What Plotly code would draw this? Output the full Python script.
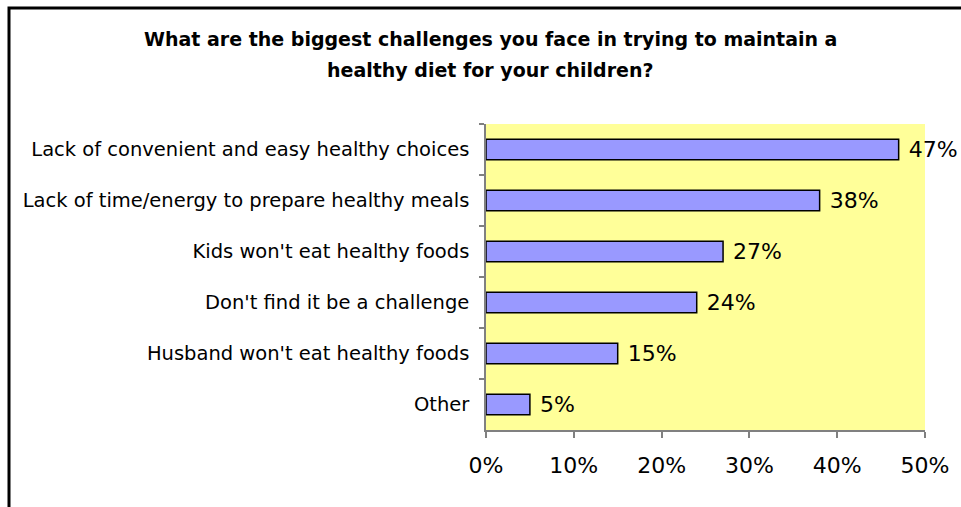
import plotly.graph_objects as go

# Survey responses (share of parents)
categories = [
    "Lack of convenient and easy healthy choices",
    "Lack of time/energy to prepare healthy meals",
    "Kids won't eat healthy foods",
    "Don't find it be a challenge",
    "Husband won't eat healthy foods",
    "Other",
]
values = [47, 38, 27, 24, 15, 5]
x_ticks = [0, 10, 20, 30, 40, 50]
x_tick_labels = ["0%", "10%", "20%", "30%", "40%", "50%"]
title_lines = [
    "What are the biggest challenges you face in trying to maintain a",
    "healthy diet for your children?",
]

FONT = "DejaVu Sans, Arial, sans-serif"

fig = go.Figure(
    go.Bar(
        x=values,
        y=categories,
        orientation="h",
        width=0.4,
        marker=dict(color="#9999FF", line=dict(color="black", width=1.5)),
        text=[f" {v}%" for v in values],
        textposition="outside",
        constraintext="none",
        textfont=dict(family=FONT, size=22, color="black"),
        cliponaxis=False,
        hoverinfo="skip",
    )
)

W, H = 961, 507
L, R, T, B = 486, 36, 124, 77
pw, ph = W - L - R, H - T - B


def px_x(x):
    return (x - L) / pw


def px_y(y):
    return 1 - (y - T) / ph


# Two-line bold heading, centred over the chart
annotations = [
    dict(
        text=f"<b>{line}</b>",
        xref="paper",
        yref="paper",
        x=px_x(490),
        y=px_y(y),
        xanchor="center",
        yanchor="middle",
        showarrow=False,
        font=dict(family=FONT, size=19, color="black"),
    )
    for line, y in zip(title_lines, [39, 70])
]

fig.update_layout(
    width=W,
    height=H,
    margin=dict(l=L, r=R, t=T, b=B, pad=0),
    paper_bgcolor="white",
    plot_bgcolor="#FFFF99",
    showlegend=False,
    bargap=0.6,
    font=dict(family=FONT, color="black"),
    annotations=annotations,
    xaxis=dict(
        range=[0, 50],
        tickvals=x_ticks,
        ticktext=x_tick_labels,
        ticks="outside",
        ticklen=6,
        tickcolor="#808080",
        tickwidth=1.5,
        showline=True,
        linecolor="#808080",
        linewidth=1.5,
        showgrid=False,
        zeroline=False,
        ticklabelstandoff=9,
        tickfont=dict(family=FONT, size=22, color="black"),
        fixedrange=True,
    ),
    yaxis=dict(
        autorange="reversed",
        ticks="outside",
        ticklen=5,
        tickcolor="#808080",
        tickwidth=1.5,
        tickson="boundaries",
        showline=True,
        linecolor="#808080",
        linewidth=1.5,
        showgrid=False,
        ticklabelstandoff=11,
        tickfont=dict(family=FONT, size=19.5, color="black"),
        fixedrange=True,
    ),
    shapes=[
        # Chart frame, running past the visible page on the right and bottom
        dict(
            type="rect",
            xref="paper",
            yref="paper",
            x0=px_x(9),
            x1=px_x(W + 20),
            y0=px_y(H + 20),
            y1=px_y(8),
            line=dict(color="black", width=3),
            fillcolor="rgba(0,0,0,0)",
            layer="below",
        )
    ],
)

fig.write_html("out.html")
